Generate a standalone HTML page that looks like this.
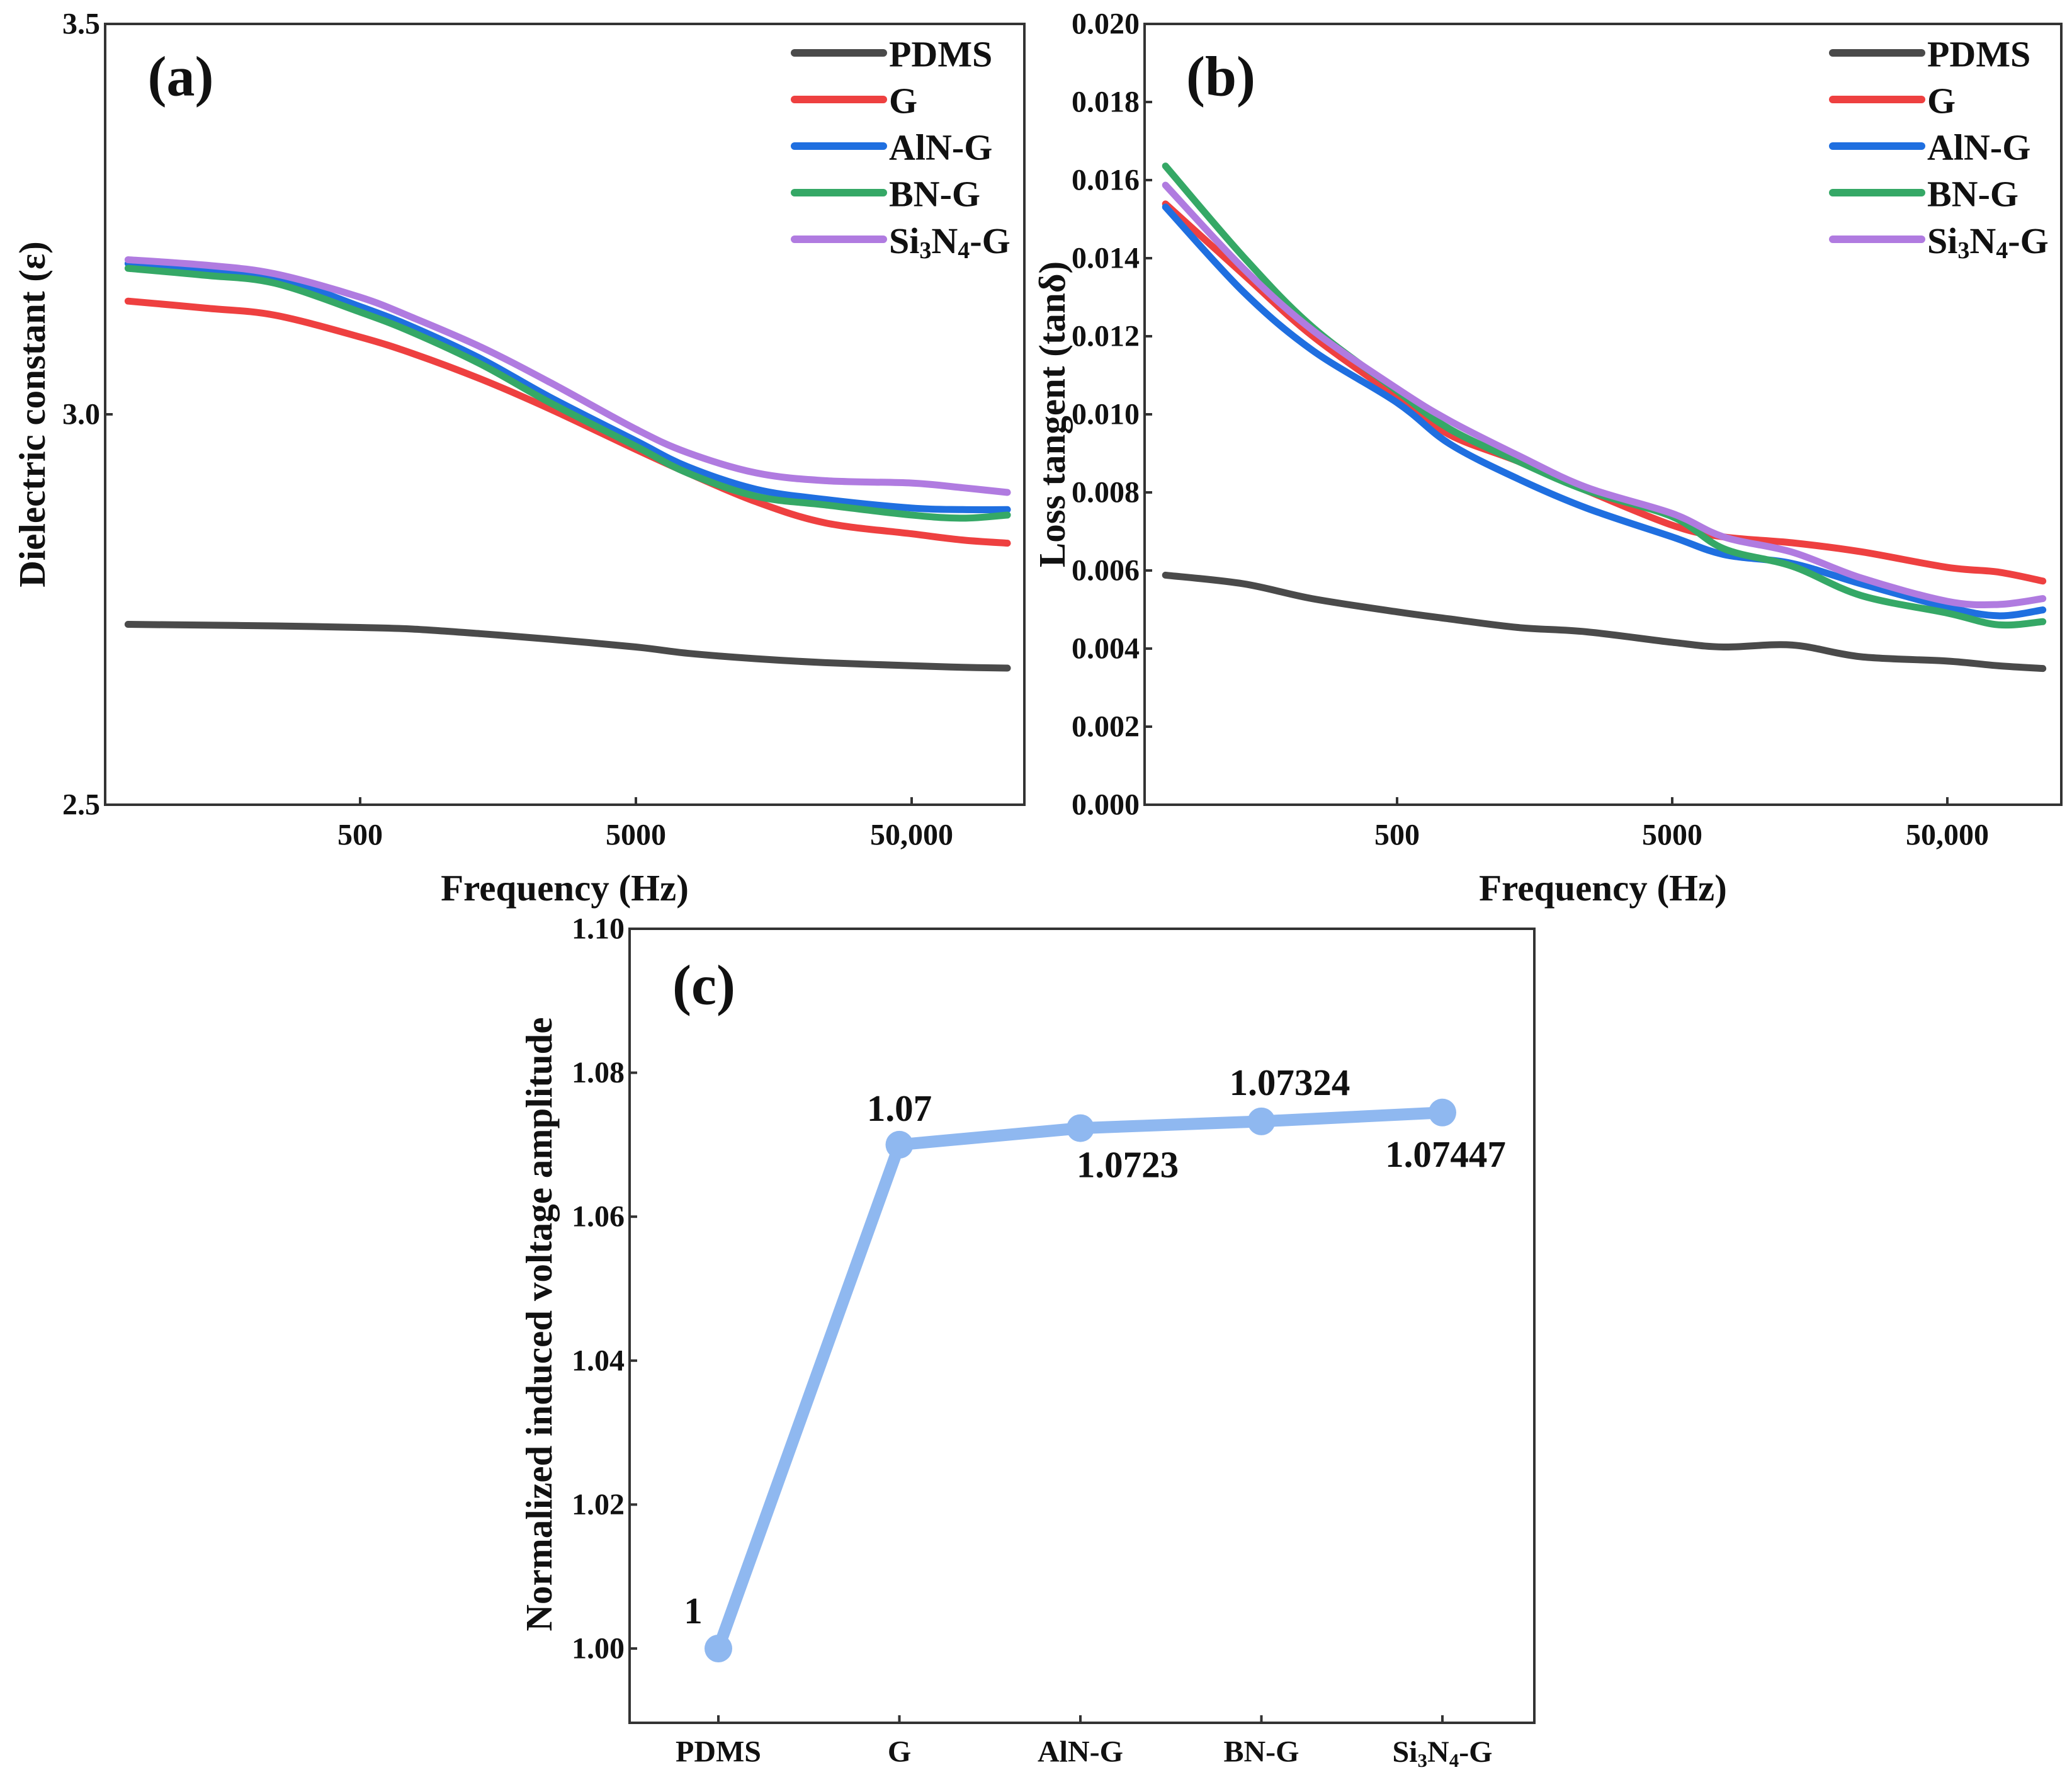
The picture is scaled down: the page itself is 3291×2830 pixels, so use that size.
<!DOCTYPE html>
<html><head><meta charset="utf-8"><style>
html,body{margin:0;padding:0;background:#fff}
svg{display:block}
text{font-family:"Liberation Serif",serif;font-weight:bold;fill:#111}
</style></head><body>
<svg id="fig" width="3291" height="2830" viewBox="0 0 3291 2830" xmlns="http://www.w3.org/2000/svg"></svg>
<script>
// ---- data ----
const freqs = [72,138,245,500,774,1374,2438,5000,7690,13650,24270,50000,76560,111200];
const seriesNames = ["PDMS","G","AlN-G","BN-G","Si3N4-G"];
const seriesColors = ["#4a4a4a","#ee4040","#1f6fe0","#35a866","#b07be0"];
const epsPDMS = [2.731,2.730,2.729,2.727,2.725,2.719,2.712,2.702,2.694,2.687,2.682,2.678,2.676,2.675];
const epsG    = [3.145,3.136,3.127,3.099,3.078,3.045,3.007,2.955,2.925,2.888,2.861,2.847,2.839,2.835];
const epsAlN  = [3.193,3.185,3.176,3.138,3.112,3.071,3.022,2.966,2.933,2.904,2.891,2.880,2.878,2.878];
const epsBN   = [3.187,3.178,3.168,3.131,3.105,3.064,3.015,2.959,2.925,2.895,2.884,2.871,2.867,2.871];
const epsSi   = [3.198,3.191,3.180,3.150,3.124,3.086,3.041,2.981,2.951,2.925,2.915,2.912,2.906,2.900];
const tanPDMS = [0.00588,0.00566,0.00528,0.00494,0.00476,0.00454,0.00443,0.00416,0.00404,0.00409,0.00379,0.00368,0.00356,0.00349];
const tanG    = [0.01539,0.01359,0.01202,0.01045,0.00948,0.00880,0.00805,0.00716,0.00686,0.00671,0.00648,0.00608,0.00596,0.00573];
const tanAlN  = [0.01531,0.01314,0.01165,0.01030,0.00925,0.00835,0.00760,0.00686,0.00641,0.00618,0.00566,0.00506,0.00484,0.00499];
const tanBN   = [0.01636,0.01404,0.01225,0.01060,0.00963,0.00880,0.00805,0.00738,0.00656,0.00611,0.00536,0.00491,0.00461,0.00469];
const tanSi   = [0.01587,0.01374,0.01217,0.01066,0.00984,0.00895,0.00813,0.00746,0.00686,0.00647,0.00581,0.00521,0.00513,0.00528];
const xTickVals = [500,5000,50000];
const xTickLabels = ["500","5000","50,000"];
const epsTicks = [2.5,3.0,3.5];
const epsTickLabels = ["2.5","3.0","3.5"];
const tanTicks = [0,0.002,0.004,0.006,0.008,0.010,0.012,0.014,0.016,0.018,0.020];
const tanTickLabels = ["0.000","0.002","0.004","0.006","0.008","0.010","0.012","0.014","0.016","0.018","0.020"];
const cCats = ["PDMS","G","AlN-G","BN-G","Si3N4-G"];
const cVals = [1,1.07,1.0723,1.07324,1.07447];
const cValLabels = ["1","1.07","1.0723","1.07324","1.07447"];
const cTicks = [1.00,1.02,1.04,1.06,1.08,1.10];
const cTickLabels = ["1.00","1.02","1.04","1.06","1.08","1.10"];

const NS="http://www.w3.org/2000/svg";
const svg=document.getElementById('fig');
function mk(tag,attrs,parent){const e=document.createElementNS(NS,tag);for(const k in attrs)e.setAttribute(k,attrs[k]);(parent||svg).appendChild(e);return e;}
function txt(str,x,y,size,anchor,parent){const t=mk('text',{x:x,y:y,'font-size':size,'text-anchor':anchor||'middle','dominant-baseline':'central'},parent);t.textContent=str;return t;}
function subLabel(t,name,size){
  if(name!=="Si3N4-G"){t.textContent=name;return;}
  const parts=[["Si",0],["3",1],["N",0],["4",1],["-G",0]];
  const shift=Math.round(size*0.28);
  let cur=0;
  parts.forEach(p=>{const s=document.createElementNS(NS,'tspan');s.textContent=p[0];
    const target=p[1]?shift:0;
    if(target!==cur){s.setAttribute('dy',target-cur);cur=target;}
    if(p[1]) s.setAttribute('font-size',Math.round(size*0.65));
    t.appendChild(s);});
}
function smoothPath(pts){
  let d=`M${pts[0][0]},${pts[0][1]}`;
  for(let i=0;i<pts.length-1;i++){
    const p0=pts[i-1]||pts[i],p1=pts[i],p2=pts[i+1],p3=pts[i+2]||p2;
    const c1=[p1[0]+(p2[0]-p0[0])/6,p1[1]+(p2[1]-p0[1])/6];
    const c2=[p2[0]-(p3[0]-p1[0])/6,p2[1]-(p3[1]-p1[1])/6];
    d+=` C${c1[0]},${c1[1]} ${c2[0]},${c2[1]} ${p2[0]},${p2[1]}`;
  }
  return d;
}

function freqPanel(cfg){
  const g=mk('g',{});
  
  
  const X=f=>cfg.x500+(Math.log10(f)-Math.log10(500))*cfg.decade;
  const Y=v=>cfg.bottom-(v-cfg.ymin)/(cfg.ymax-cfg.ymin)*(cfg.bottom-cfg.top);
  cfg.series.forEach((arr,si)=>{
    const pts=freqs.map((f,i)=>[X(f),Y(arr[i])]);
    const p=mk('path',{d:smoothPath(pts),fill:'none',stroke:seriesColors[si],'stroke-width':11,'stroke-linecap':'round','stroke-linejoin':'round'},g);
    
    
  });
  const fr=mk('rect',{x:cfg.left,y:cfg.top,width:cfg.right-cfg.left,height:cfg.bottom-cfg.top,fill:'none',stroke:'#333','stroke-width':4},g);
  
  
  xTickVals.forEach((v,i)=>{
    const x=X(v);
    mk('line',{x1:x,y1:cfg.bottom,x2:x,y2:cfg.bottom-12,stroke:'#333','stroke-width':4},g);
    const t=txt(xTickLabels[i],x,cfg.bottom+48,48,'middle',g);
    
    
  });
  cfg.ticks.forEach((v,i)=>{
    const y=Y(v);
    mk('line',{x1:cfg.left,y1:y,x2:cfg.left+12,y2:y,stroke:'#333','stroke-width':4},g);
    const t=txt(cfg.tickLabels[i],cfg.left-8,y,48,'end',g);
    
    
  });
  const xt=txt('Frequency (Hz)',(cfg.left+cfg.right)/2,1410,59,'middle',g);
  
  
  const yt=txt(cfg.ytitle,0,0,59,'middle',g);
  yt.setAttribute('transform',`translate(${cfg.ytx},${(cfg.top+cfg.bottom)/2}) rotate(-90)`);
  
  
  const pl=txt(cfg.label,cfg.labelX,122,90,'middle',g);
  
  
  seriesNames.forEach((n,i)=>{
    const y=84+i*74;
    const lg=mk('g',{},g);
    
    
    mk('line',{x1:cfg.legX,y1:y,x2:cfg.legX+141,y2:y,stroke:seriesColors[i],'stroke-width':12,'stroke-linecap':'round'},lg);
    const t=mk('text',{x:cfg.legX+150,y:y+2,'font-size':58,'dominant-baseline':'central'},lg);
    subLabel(t,n,58);
  });
}
freqPanel({name:'panel-a-dielectric',left:167,right:1627,top:38,bottom:1278,x500:572,decade:438,ymin:2.5,ymax:3.5,
  series:[epsPDMS,epsG,epsAlN,epsBN,epsSi],ticks:epsTicks,tickLabels:epsTickLabels,ytitle:'Dielectric constant (ε)',ytx:51,label:'(a)',labelX:287,legX:1262});
freqPanel({name:'panel-b-loss-tangent',left:1818,right:3274,top:38,bottom:1278,x500:2219,decade:437,ymin:0,ymax:0.02,
  series:[tanPDMS,tanG,tanAlN,tanBN,tanSi],ticks:tanTicks,tickLabels:tanTickLabels,ytitle:'Loss tangent (tanδ)',ytx:1671,label:'(b)',labelX:1939,legX:2911});

// ---- panel c ----
(function(){
  const g=mk('g',{});
  
  
  const L=1000,R=2437,T=1475,B=2736;
  const Y=v=>2618-(v-1.0)/0.1*(2618-1475);
  const X=i=>1141+i*287.5;
  const pts=cVals.map((v,i)=>[X(i),Y(v)]);
  const pl=mk('polyline',{points:pts.map(p=>p.join(',')).join(' '),fill:'none',stroke:'#8fb8f0','stroke-width':19,'stroke-linejoin':'round','stroke-linecap':'round'},g);
  
  
  const offs=[[-40,-60],[0,-58],[75,58],[45,-62],[5,66]];
  cVals.forEach((v,i)=>{
    const c=mk('circle',{cx:X(i),cy:Y(v),r:22,fill:'#8fb8f0'},g);
    
    
    const t=txt(cValLabels[i],X(i)+offs[i][0],Y(v)+offs[i][1],59,'middle',g);
    
    
  });
  const fr=mk('rect',{x:L,y:T,width:R-L,height:B-T,fill:'none',stroke:'#333','stroke-width':4},g);
  
  
  cTicks.forEach((v,i)=>{
    const y=Y(v);
    mk('line',{x1:L,y1:y,x2:L+12,y2:y,stroke:'#333','stroke-width':4},g);
    const t=txt(cTickLabels[i],L-8,y,48,'end',g);
    
    
  });
  cCats.forEach((n,i)=>{
    mk('line',{x1:X(i),y1:B,x2:X(i),y2:B-12,stroke:'#333','stroke-width':4},g);
    const t=mk('text',{x:X(i),y:2782,'font-size':48,'text-anchor':'middle','dominant-baseline':'central'},g);
    
    
    subLabel(t,n,48);
  });
  const yt=txt('Normalized induced voltage amplitude',0,0,59,'middle',g);
  yt.setAttribute('transform','translate(856,2103) rotate(-90)');
  
  
  const lab=txt('(c)',1118,1565,90,'middle',g);
  
  
})();
</script>
</body></html>
